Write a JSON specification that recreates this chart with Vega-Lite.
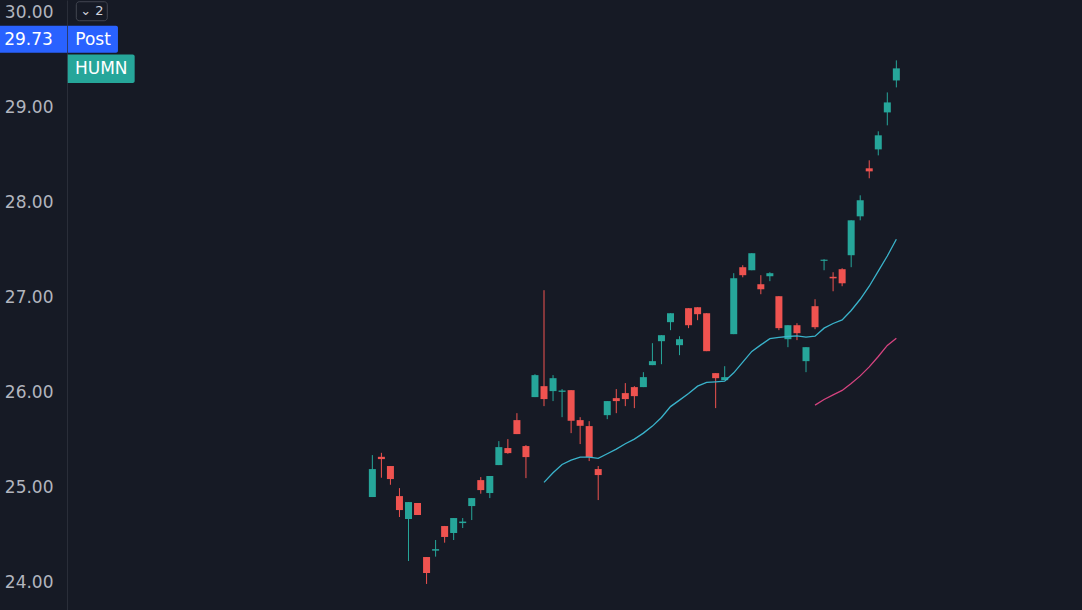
{
  "$schema": "https://vega.github.io/schema/vega-lite/v6.json",
  "width": 1015,
  "height": 610,
  "autosize": "none",
  "padding": {"left": 67, "top": 0, "right": 0, "bottom": 0},
  "background": "#161a25",
  "config": {"view": {"stroke": null}, "font": "DejaVu Sans"},
  "datasets": {
    "candles": [
      {"i":0,"o":24.904,"h":25.345,"l":24.904,"c":25.198},
      {"i":1,"o":25.327,"h":25.369,"l":25.107,"c":25.303},
      {"i":2,"o":25.230,"h":25.230,"l":25.033,"c":25.093},
      {"i":3,"o":24.914,"h":24.998,"l":24.694,"c":24.767},
      {"i":4,"o":24.673,"h":24.851,"l":24.231,"c":24.851},
      {"i":5,"o":24.841,"h":24.841,"l":24.715,"c":24.715},
      {"i":6,"o":24.273,"h":24.273,"l":23.990,"c":24.105},
      {"i":7,"o":24.340,"h":24.452,"l":24.277,"c":24.356},
      {"i":8,"o":24.599,"h":24.600,"l":24.424,"c":24.484},
      {"i":9,"o":24.526,"h":24.683,"l":24.452,"c":24.683},
      {"i":10,"o":24.630,"h":24.683,"l":24.578,"c":24.646},
      {"i":11,"o":24.809,"h":24.893,"l":24.662,"c":24.893},
      {"i":12,"o":25.082,"h":25.114,"l":24.939,"c":24.977},
      {"i":13,"o":24.946,"h":25.125,"l":24.893,"c":25.125},
      {"i":14,"o":25.240,"h":25.492,"l":25.240,"c":25.429},
      {"i":15,"o":25.419,"h":25.513,"l":25.359,"c":25.366},
      {"i":16,"o":25.713,"h":25.786,"l":25.566,"c":25.566},
      {"i":17,"o":25.440,"h":25.450,"l":25.103,"c":25.324},
      {"i":18,"o":25.955,"h":26.196,"l":25.955,"c":26.186},
      {"i":19,"o":26.070,"h":27.079,"l":25.860,"c":25.934},
      {"i":20,"o":26.018,"h":26.186,"l":25.913,"c":26.154},
      {"i":21,"o":26.010,"h":26.039,"l":25.744,"c":26.024},
      {"i":22,"o":26.028,"h":26.028,"l":25.576,"c":25.706},
      {"i":23,"o":25.713,"h":25.744,"l":25.461,"c":25.653},
      {"i":24,"o":25.650,"h":25.702,"l":25.282,"c":25.324},
      {"i":25,"o":25.198,"h":25.230,"l":24.872,"c":25.135},
      {"i":26,"o":25.765,"h":25.913,"l":25.723,"c":25.913},
      {"i":27,"o":25.944,"h":26.039,"l":25.786,"c":25.913},
      {"i":28,"o":25.997,"h":26.102,"l":25.860,"c":25.934},
      {"i":29,"o":26.060,"h":26.070,"l":25.839,"c":25.965},
      {"i":30,"o":26.060,"h":26.217,"l":26.060,"c":26.165},
      {"i":31,"o":26.291,"h":26.522,"l":26.291,"c":26.333},
      {"i":32,"o":26.543,"h":26.606,"l":26.301,"c":26.606},
      {"i":33,"o":26.743,"h":26.837,"l":26.659,"c":26.837},
      {"i":34,"o":26.501,"h":26.595,"l":26.396,"c":26.564},
      {"i":35,"o":26.890,"h":26.890,"l":26.680,"c":26.711},
      {"i":36,"o":26.900,"h":26.900,"l":26.764,"c":26.827},
      {"i":37,"o":26.837,"h":26.837,"l":26.438,"c":26.438},
      {"i":38,"o":26.207,"h":26.207,"l":25.839,"c":26.154},
      {"i":39,"o":26.133,"h":26.280,"l":26.133,"c":26.165},
      {"i":40,"o":26.617,"h":27.258,"l":26.617,"c":27.205},
      {"i":41,"o":27.321,"h":27.342,"l":27.215,"c":27.237},
      {"i":42,"o":27.289,"h":27.468,"l":27.289,"c":27.468},
      {"i":43,"o":27.142,"h":27.237,"l":27.037,"c":27.089},
      {"i":44,"o":27.226,"h":27.268,"l":27.174,"c":27.258},
      {"i":45,"o":27.016,"h":27.016,"l":26.659,"c":26.680},
      {"i":46,"o":26.564,"h":26.711,"l":26.480,"c":26.711},
      {"i":47,"o":26.711,"h":26.732,"l":26.554,"c":26.627},
      {"i":48,"o":26.333,"h":26.480,"l":26.217,"c":26.480},
      {"i":49,"o":26.911,"h":26.984,"l":26.669,"c":26.690},
      {"i":50,"o":27.388,"h":27.405,"l":27.289,"c":27.400},
      {"i":51,"o":27.220,"h":27.268,"l":27.068,"c":27.204},
      {"i":52,"o":27.300,"h":27.310,"l":27.121,"c":27.152},
      {"i":53,"o":27.447,"h":27.814,"l":27.321,"c":27.814},
      {"i":54,"o":27.856,"h":28.077,"l":27.814,"c":28.025},
      {"i":55,"o":28.361,"h":28.445,"l":28.256,"c":28.329},
      {"i":56,"o":28.560,"h":28.750,"l":28.497,"c":28.708},
      {"i":57,"o":28.949,"h":29.159,"l":28.813,"c":29.054},
      {"i":58,"o":29.285,"h":29.496,"l":29.212,"c":29.412}
    ],
    "ma20": [
      {"i":19,"v":25.058},{"i":20,"v":25.159},{"i":21,"v":25.247},{"i":22,"v":25.293},
      {"i":23,"v":25.324},{"i":24,"v":25.324},{"i":25,"v":25.310},{"i":26,"v":25.359},
      {"i":27,"v":25.408},{"i":28,"v":25.464},{"i":29,"v":25.513},{"i":30,"v":25.576},
      {"i":31,"v":25.650},{"i":32,"v":25.741},{"i":33,"v":25.855},{"i":34,"v":25.923},
      {"i":35,"v":25.993},{"i":36,"v":26.070},{"i":37,"v":26.109},{"i":38,"v":26.115},
      {"i":39,"v":26.123},{"i":40,"v":26.210},{"i":41,"v":26.322},{"i":42,"v":26.435},
      {"i":43,"v":26.504},{"i":44,"v":26.569},{"i":45,"v":26.582},{"i":46,"v":26.592},
      {"i":47,"v":26.599},{"i":48,"v":26.585},{"i":49,"v":26.596},{"i":50,"v":26.680},
      {"i":51,"v":26.729},{"i":52,"v":26.767},{"i":53,"v":26.866},{"i":54,"v":26.984},
      {"i":55,"v":27.121},{"i":56,"v":27.279},{"i":57,"v":27.439},{"i":58,"v":27.615}
    ],
    "ma50": [
      {"i":49,"v":25.871},{"i":50,"v":25.930},{"i":51,"v":25.979},{"i":52,"v":26.025},
      {"i":53,"v":26.099},{"i":54,"v":26.178},{"i":55,"v":26.273},{"i":56,"v":26.382},
      {"i":57,"v":26.498},{"i":58,"v":26.575}
    ],
    "tags": [
      {"tag":"price","text":"29.73","price":29.73},
      {"tag":"post","text":"Post","price":29.73},
      {"tag":"symbol","text":"HUMN","price":29.41},
      {"tag":"panes","text":"⌄ 2","price":30.013}
    ]
  },
  "layer": [
    {
      "data": {"name": "candles"},
      "mark": {"type": "rule", "strokeWidth": 1},
      "encoding": {
        "x": {"field": "i", "type": "quantitative", "scale": {"domain": [-33.8, 78.55], "nice": false, "zero": false, "padding": 0}, "axis": null},
        "y": {"field": "l", "type": "quantitative", "scale": {"domain": [23.716, 30.131], "nice": false, "zero": false, "padding": 0},
          "axis": {"orient": "left", "values": [24, 25, 26, 27, 28, 29, 30], "format": ".2f", "ticks": false, "grid": false,
            "domain": true, "domainColor": "#2a2e39", "domainWidth": 1, "labelPadding": 14, "labelFontSize": 17,
            "labelColor": "#b2b5be", "labelFont": "DejaVu Sans", "labelBound": false, "labelOverlap": false, "title": null}},
        "y2": {"field": "h"},
        "color": {"condition": {"test": "datum.c >= datum.o", "value": "#26a69a"}, "value": "#ef5350"}
      }
    },
    {
      "data": {"name": "candles"},
      "mark": {"type": "bar", "size": 7, "minBandSize": 1},
      "encoding": {
        "x": {"field": "i", "type": "quantitative"},
        "y": {"field": "o", "type": "quantitative"},
        "y2": {"field": "c"},
        "color": {"condition": {"test": "datum.c >= datum.o", "value": "#26a69a"}, "value": "#ef5350"}
      }
    },
    {
      "data": {"name": "ma20"},
      "mark": {"type": "line", "color": "#3ab3cb", "strokeWidth": 1.3},
      "encoding": {
        "x": {"field": "i", "type": "quantitative"},
        "y": {"field": "v", "type": "quantitative"}
      }
    },
    {
      "data": {"name": "ma50"},
      "mark": {"type": "line", "color": "#d4437f", "strokeWidth": 1.3},
      "encoding": {
        "x": {"field": "i", "type": "quantitative"},
        "y": {"field": "v", "type": "quantitative"}
      }
    },
    {
      "data": {"name": "tags"},
      "transform": [{"filter": "datum.tag == 'price'"}],
      "mark": {"type": "rect", "color": "#2962ff", "yOffset": -12.5, "y2Offset": 14.5},
      "encoding": {
        "x": {"datum": -41.3, "type": "quantitative"},
        "x2": {"datum": -33.8},
        "y": {"field": "price", "type": "quantitative"},
        "y2": {"field": "price"}
      }
    },
    {
      "data": {"name": "tags"},
      "transform": [{"filter": "datum.tag == 'post'"}],
      "mark": {"type": "rect", "color": "#2962ff", "yOffset": -12.5, "y2Offset": 14.5, "cornerRadiusTopRight": 2, "cornerRadiusBottomRight": 2},
      "encoding": {
        "x": {"datum": -33.72, "type": "quantitative"},
        "x2": {"datum": -28.16},
        "y": {"field": "price", "type": "quantitative"},
        "y2": {"field": "price"}
      }
    },
    {
      "data": {"name": "tags"},
      "transform": [{"filter": "datum.tag == 'symbol'"}],
      "mark": {"type": "rect", "color": "#26a69a", "yOffset": -14, "y2Offset": 14.5, "cornerRadiusTopRight": 2, "cornerRadiusBottomRight": 2},
      "encoding": {
        "x": {"datum": -33.72, "type": "quantitative"},
        "x2": {"datum": -26.31},
        "y": {"field": "price", "type": "quantitative"},
        "y2": {"field": "price"}
      }
    },
    {
      "data": {"name": "tags"},
      "transform": [{"filter": "datum.tag == 'panes'"}],
      "mark": {"type": "rect", "fill": "#161a25", "stroke": "#434651", "strokeWidth": 1, "yOffset": -9.5, "y2Offset": 9.5, "cornerRadius": 3},
      "encoding": {
        "x": {"datum": -32.77, "type": "quantitative"},
        "x2": {"datum": -29.34},
        "y": {"field": "price", "type": "quantitative"},
        "y2": {"field": "price"}
      }
    },
    {
      "data": {"name": "tags"},
      "transform": [{"filter": "datum.tag == 'price'"}],
      "mark": {"type": "text", "color": "#ffffff", "fontSize": 17, "font": "DejaVu Sans", "align": "right", "baseline": "middle", "dy": 1.5},
      "encoding": {
        "x": {"datum": -35.37, "type": "quantitative"},
        "y": {"field": "price", "type": "quantitative"},
        "text": {"field": "text"}
      }
    },
    {
      "data": {"name": "tags"},
      "transform": [{"filter": "datum.tag == 'post'"}],
      "mark": {"type": "text", "color": "#ffffff", "fontSize": 17, "font": "DejaVu Sans", "align": "center", "baseline": "middle", "dy": 1.5},
      "encoding": {
        "x": {"datum": -30.92, "type": "quantitative"},
        "y": {"field": "price", "type": "quantitative"},
        "text": {"field": "text"}
      }
    },
    {
      "data": {"name": "tags"},
      "transform": [{"filter": "datum.tag == 'symbol'"}],
      "mark": {"type": "text", "color": "#ffffff", "fontSize": 17, "font": "DejaVu Sans", "align": "center", "baseline": "middle", "dy": 0.5},
      "encoding": {
        "x": {"datum": -30.01, "type": "quantitative"},
        "y": {"field": "price", "type": "quantitative"},
        "text": {"field": "text"}
      }
    },
    {
      "data": {"name": "tags"},
      "transform": [{"filter": "datum.tag == 'panes'"}],
      "mark": {"type": "text", "color": "#d1d4dc", "fontSize": 13, "font": "DejaVu Sans", "align": "center", "baseline": "middle"},
      "encoding": {
        "x": {"datum": -31.05, "type": "quantitative"},
        "y": {"field": "price", "type": "quantitative"},
        "text": {"field": "text"}
      }
    }
  ]
}
